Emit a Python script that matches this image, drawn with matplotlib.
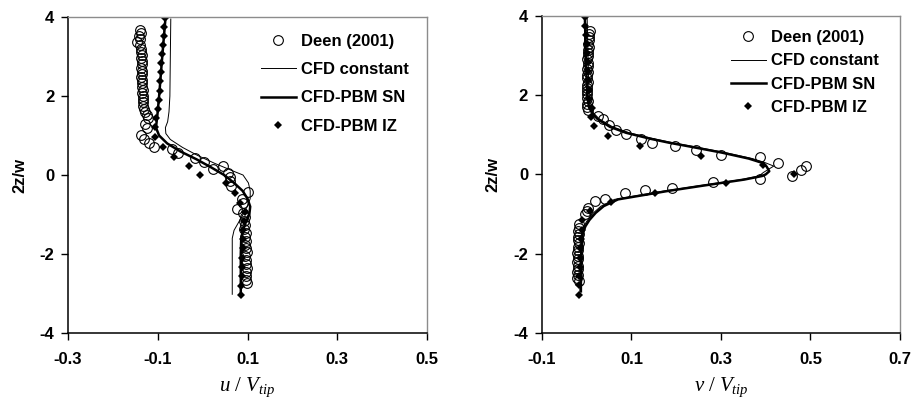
import matplotlib
matplotlib.use("Agg")
import matplotlib.pyplot as plt

plt.rcParams['font.family'] = ['Liberation Sans', 'DejaVu Sans']
plt.rcParams['mathtext.fontset'] = 'custom'
plt.rcParams['mathtext.it'] = 'Liberation Serif:italic'
plt.rcParams['mathtext.rm'] = 'Liberation Serif'
plt.rcParams['axes.unicode_minus'] = False

# ---------------- left panel: u / Vtip ----------------
u_deen_y = [3.68, 3.60, 3.52, 3.44, 3.36, 3.28, 3.20, 3.12, 3.04, 2.96, 2.88, 2.80,
            2.72, 2.64, 2.56, 2.48, 2.40, 2.32, 2.24, 2.16, 2.08, 2.00, 1.92, 1.84,
            1.76, 1.68, 1.60, 1.52, 1.44, 1.30, 1.20, 1.02, 0.92, 0.80, 0.70,
            0.66, 0.56, 0.42, 0.32, 0.22, 0.14, 0.05, -0.05, -0.15, -0.28, -0.42,
            -0.60, -0.72, -0.86, -0.96, -1.06, -1.16, -1.26, -1.36, -1.46, -1.56,
            -1.66, -1.76, -1.86, -1.96, -2.06, -2.16, -2.26, -2.36, -2.46, -2.56,
            -2.66, -2.74]
u_deen_x = [-0.140, -0.138, -0.141, -0.139, -0.146, -0.140, -0.137, -0.138, -0.136, -0.137, -0.135, -0.136,
            -0.137, -0.135, -0.136, -0.137, -0.135, -0.136, -0.136, -0.134, -0.135, -0.134, -0.133, -0.134,
            -0.132, -0.131, -0.129, -0.125, -0.122, -0.128, -0.124, -0.137, -0.130, -0.119, -0.108,
            -0.069, -0.054, -0.017, 0.002, 0.046, 0.024, 0.057, 0.060, 0.062, 0.064, 0.102,
            0.087, 0.089, 0.076, 0.090, 0.094, 0.092, 0.095, 0.093, 0.096, 0.094,
            0.097, 0.095, 0.096, 0.098, 0.095, 0.097, 0.096, 0.098, 0.097, 0.096,
            0.097, 0.098]

u_const_y = [3.95, 3.00, 2.00, 1.60, 1.35, 1.20, 1.05, 0.90, 0.70, 0.50, 0.30, 0.10, 0.00,
             -0.20, -0.40, -0.60, -0.80, -1.00, -1.20, -1.40, -1.60, -2.00, -2.50, -3.02]
u_const_x = [-0.071, -0.072, -0.073, -0.075, -0.078, -0.083, -0.082, -0.072, -0.045, -0.012, 0.026, 0.068, 0.090,
             0.102, 0.106, 0.106, 0.099, 0.090, 0.080, 0.070, 0.066, 0.066, 0.066, 0.066]

u_sn_y = [3.95, 3.00, 2.00, 1.50, 1.20, 1.00, 0.80, 0.60, 0.40, 0.20, 0.00, -0.20,
          -0.40, -0.60, -0.80, -1.00, -1.20, -1.40, -1.60, -2.00, -2.50, -3.02]
u_sn_x = [-0.083, -0.090, -0.097, -0.101, -0.104, -0.097, -0.079, -0.050, -0.014, 0.018, 0.048, 0.070,
          0.089, 0.100, 0.106, 0.104, 0.096, 0.090, 0.086, 0.085, 0.085, 0.085]

iz_y = [3.98, 3.75, 3.52, 3.29, 3.06, 2.83, 2.60, 2.37, 2.14, 1.91, 1.68, 1.45, 1.22,
        0.97, 0.72, 0.46, 0.24, 0.00, -0.21, -0.46, -0.70, -0.93, -1.16, -1.40, -1.63,
        -1.86, -2.10, -2.33, -2.56, -2.80, -3.03]
u_iz_x = [-0.084, -0.086, -0.087, -0.089, -0.090, -0.092, -0.093, -0.095, -0.096, -0.098, -0.100, -0.103, -0.107,
          -0.106, -0.089, -0.063, -0.031, -0.006, 0.053, 0.073, 0.084, 0.095, 0.093, 0.091, 0.090,
          0.089, 0.088, 0.088, 0.087, 0.086, 0.085]

# ---------------- right panel: v / Vtip ----------------
v_deen_y = [3.62, 3.54, 3.46, 3.38, 3.30, 3.22, 3.14, 3.06, 2.98, 2.90, 2.82, 2.74, 2.66,
            2.58, 2.50, 2.42, 2.34, 2.26, 2.18, 2.10, 2.02, 1.94, 1.86, 1.78, 1.70, 1.62,
            1.47, 1.39, 1.24, 1.11, 1.03, 0.90, 0.80, 0.72, 0.61, 0.50, 0.45, 0.30,
            0.21, 0.11, -0.04, -0.11, -0.19, -0.34, -0.40, -0.48, -0.61, -0.67, -0.84,
            -0.92, -1.00, -1.25, -1.34, -1.42, -1.50, -1.58, -1.66, -1.74, -1.82, -1.90,
            -1.98, -2.06, -2.14, -2.22, -2.30, -2.38, -2.46, -2.54, -2.62, -2.70]
v_deen_x = [0.007, 0.006, 0.005, 0.006, 0.004, 0.005, 0.003, 0.004, 0.002, 0.001, 0.003, 0.002, 0.001,
            0.002, 0.001, 0.000, 0.002, 0.001, 0.000, 0.001, 0.000, 0.001, 0.002, 0.001, 0.000, 0.004,
            0.026, 0.037, 0.050, 0.066, 0.087, 0.121, 0.145, 0.197, 0.245, 0.300, 0.387, 0.428,
            0.491, 0.478, 0.458, 0.388, 0.283, 0.190, 0.131, 0.085, 0.041, 0.019, 0.004,
            0.000, -0.004, -0.018, -0.017, -0.019, -0.018, -0.020, -0.019, -0.018, -0.020, -0.019,
            -0.021, -0.019, -0.020, -0.021, -0.020, -0.019, -0.021, -0.020, -0.022, -0.017]

v_const_y = [3.95, 3.00, 2.00, 1.70, 1.55, 1.40, 1.20, 1.05, 0.90, 0.80, 0.70, 0.55, 0.40, 0.30, 0.21,
             0.12, 0.05, -0.04, -0.13, -0.29, -0.42, -0.63, -0.80, -0.97, -1.15, -1.31, -1.50, -2.00, -2.50, -2.95]
v_const_x = [0.001, 0.003, 0.005, 0.008, 0.015, 0.028, 0.058, 0.095, 0.150, 0.192, 0.240, 0.310, 0.370, 0.398, 0.418,
             0.405, 0.395, 0.385, 0.345, 0.248, 0.172, 0.062, 0.032, 0.015, 0.002, -0.007, -0.012, -0.014, -0.015, -0.015]

v_sn_y = [3.95, 3.00, 2.00, 1.70, 1.55, 1.40, 1.20, 1.05, 0.90, 0.80, 0.70, 0.55, 0.40, 0.30, 0.20,
          0.08, 0.00, -0.04, -0.13, -0.29, -0.42, -0.63, -0.80, -0.97, -1.15, -1.31, -1.50, -2.00, -2.50, -2.95]
v_sn_x = [-0.004, -0.002, 0.001, 0.005, 0.012, 0.024, 0.052, 0.088, 0.142, 0.184, 0.232, 0.302, 0.362, 0.390, 0.402,
          0.408, 0.400, 0.392, 0.352, 0.256, 0.180, 0.070, 0.038, 0.020, 0.006, -0.003, -0.009, -0.012, -0.013, -0.013]

v_iz_x = [-0.004, -0.003, -0.001, 0.000, 0.001, 0.002, 0.003, 0.004, 0.005, 0.006, 0.011, 0.010, 0.017,
          0.048, 0.120, 0.255, 0.393, 0.463, 0.312, 0.153, 0.055, 0.008, -0.010, -0.011, -0.013,
          -0.014, -0.015, -0.016, -0.017, -0.018, -0.018]

fig = plt.figure(figsize=(9.13, 4.03), dpi=100)
ax1 = fig.add_axes([0.0745, 0.1737, 0.3932, 0.784])
ax2 = fig.add_axes([0.5936, 0.1737, 0.3921, 0.787])


def style_axes(ax, xlim, xticks):
    ax.set_xlim(xlim)
    ax.set_ylim(-4, 4)
    ax.set_xticks(xticks)
    ax.set_xticklabels(['%g' % t for t in xticks])
    ax.set_yticks([-4, -2, 0, 2, 4])
    for s in ['top', 'right']:
        ax.spines[s].set_color('#8c8c8c')
        ax.spines[s].set_linewidth(1.0)
    for s in ['left', 'bottom']:
        ax.spines[s].set_color('black')
        ax.spines[s].set_linewidth(1.1)
    ax.tick_params(direction='out', length=5, width=1.0, labelsize=12)
    ax.tick_params(axis='x', pad=9)
    ax.tick_params(axis='y', pad=5)
    for lab in ax.get_xticklabels() + ax.get_yticklabels():
        lab.set_fontweight('bold')
    ax.set_ylabel('2z/w', fontsize=12, fontweight='bold', labelpad=9)


def draw(ax, dx, dy, cx, cy, sx, sy, ix, iy):
    ax.plot(dx, dy, 'o', mfc='none', mec='black', mew=0.8, ms=7, label='Deen (2001)')
    ax.plot(cx, cy, '-', color='black', lw=0.7, label='CFD constant')
    ax.plot(sx, sy, '-', color='black', lw=1.8, label='CFD-PBM SN')
    ax.plot(ix, iy, 'D', color='black', ms=4, mew=0, label='CFD-PBM IZ')


leg_font = {'size': 12, 'weight': 'bold'}

draw(ax1, u_deen_x, u_deen_y, u_const_x, u_const_y, u_sn_x, u_sn_y, u_iz_x, iz_y)
style_axes(ax1, (-0.3, 0.5), [-0.3, -0.1, 0.1, 0.3, 0.5])
ax1.set_xlabel(r'$u\ /\ V_{tip}$', fontsize=15, labelpad=6)
ax1.legend(loc='upper left', bbox_to_anchor=(0.537, 0.947), frameon=False, prop=leg_font,
           handlelength=2.1, handletextpad=0.3, labelspacing=0.8, borderpad=0, borderaxespad=0)

draw(ax2, v_deen_x, v_deen_y, v_const_x, v_const_y, v_sn_x, v_sn_y, v_iz_x, iz_y)
style_axes(ax2, (-0.1, 0.7), [-0.1, 0.1, 0.3, 0.5, 0.7])
ax2.set_xlabel(r'$v\ /\ V_{tip}$', fontsize=15, labelpad=6)
ax2.legend(loc='upper left', bbox_to_anchor=(0.528, 0.955), frameon=False, prop=leg_font,
           handlelength=2.1, handletextpad=0.3, labelspacing=0.5, borderpad=0, borderaxespad=0)

fig.savefig('out.png', dpi=100)
